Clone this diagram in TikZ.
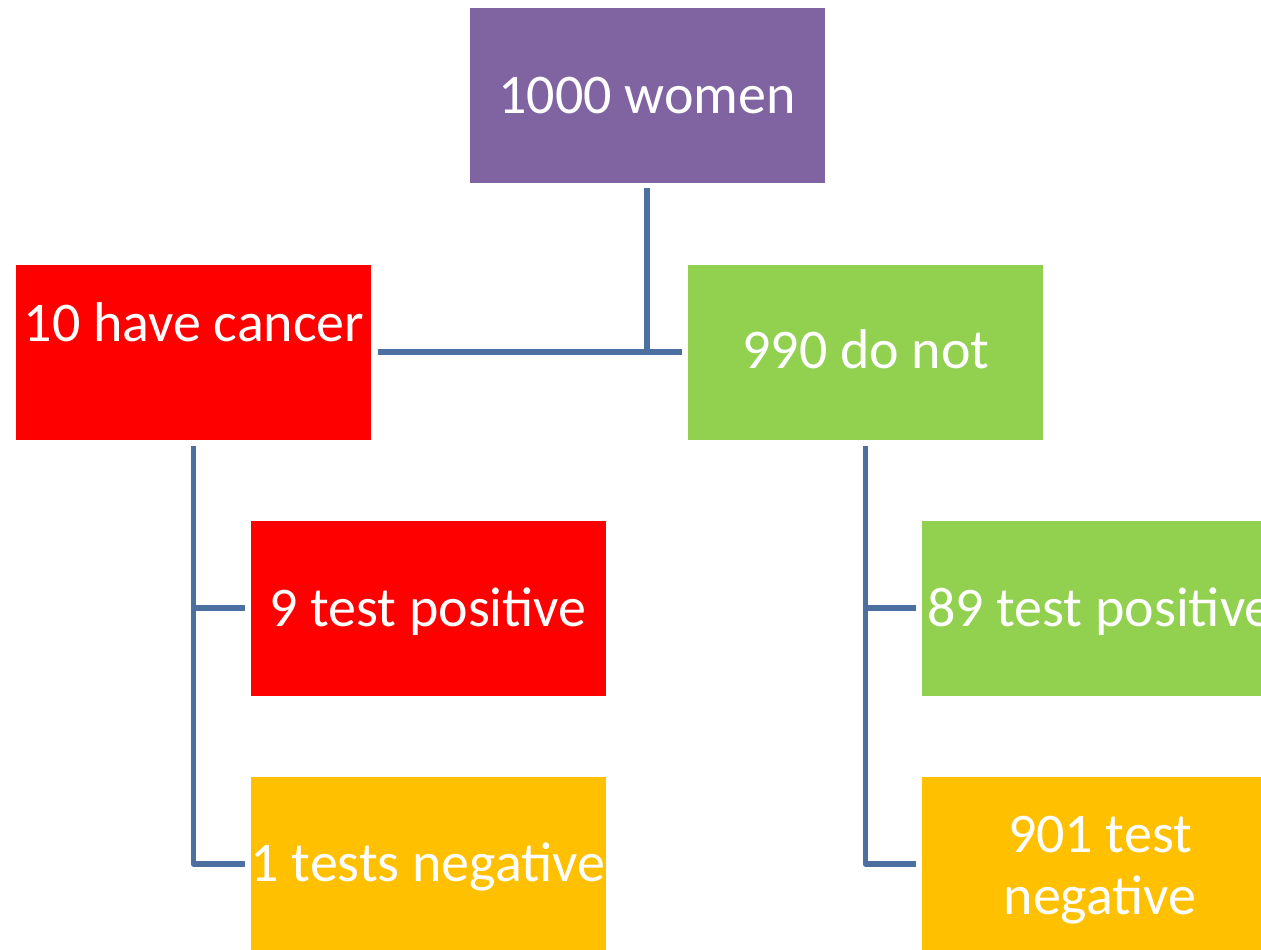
\documentclass[tikz,border=0pt]{standalone}
\usepackage{fontspec}
\setmainfont{Carlito}
\usepackage{tikz}

\definecolor{boxpurple}{HTML}{8064A2}
\definecolor{boxred}{HTML}{FF0000}
\definecolor{boxgreen}{HTML}{92D050}
\definecolor{boxorange}{HTML}{FFC000}
\definecolor{linkblue}{HTML}{4A6FA0}

\begin{document}
\begin{tikzpicture}[x=1pt, y=-1pt]
%% the figure uses pixel units, y grows downwards
%% box labels are placed separately so they can be shifted by hand
\tikzstyle{box}=[rectangle,minimum width=355pt,minimum height=175pt,inner sep=0pt]
\tikzstyle{boxtext}=[text=white,font=\fontsize{56}{62}\selectfont,inner sep=0pt]
\tikzstyle{link}=[draw=linkblue,line width=5.5pt,line join=round]
\useasboundingbox (0,0) rectangle (1261,950);
\clip (0,0) rectangle (1261,950);
%% TikZ-figure elements %%
\node[box,fill=boxpurple] at (647,95.5) (Women) {};
%% label for box Women
\node[boxtext,anchor=base] at (647,113) (WomenText) {1000 women};
\node[box,fill=boxred] at (193.5,352) (Cancer) {};
%% label for box Cancer
\node[boxtext,anchor=base] at (194,341) (CancerText) {10 have cancer};
\node[box,fill=boxgreen] at (865.5,352) (NoCancer) {};
%% label for box NoCancer
\node[boxtext,anchor=base] at (866,368) (NoCancerText) {990 do not};
\node[box,fill=boxred] at (428.5,608) (CancerPos) {};
%% label for box CancerPos
\node[boxtext,anchor=base] at (428,626) (CancerPosText) {9 test positive};
\node[box,fill=boxorange] at (428.5,864) (CancerNeg) {};
%% label for box CancerNeg
\node[boxtext,anchor=base] at (428,881) (CancerNegText) {1 tests negative};
\node[box,fill=boxgreen] at (1099.5,608) (NoCancerPos) {};
%% label for box NoCancerPos
\node[boxtext,anchor=base] at (1100,626) (NoCancerPosText) {89 test positive};
\node[box,fill=boxorange] at (1099.5,864) (NoCancerNeg) {};
%% label for box NoCancerNeg
\node[boxtext,align=center] at (1100,870) (NoCancerNegText) {901 test\\negative};
%% connectors
\coordinate (Split) at (Women.south |- Cancer.east);
\draw[link,shorten <=5pt] (Women.south) -- (Split);
\draw[link,shorten <=7pt,shorten >=6pt] (Cancer.east) -- (NoCancer.west);
\draw[link,shorten <=6pt,shorten >=6pt] (Cancer.south) |- (CancerPos.west);
\draw[link,shorten <=6pt,shorten >=6pt] (Cancer.south) |- (CancerNeg.west);
\draw[link,shorten <=6pt,shorten >=6pt] (NoCancer.south) |- (NoCancerPos.west);
\draw[link,shorten <=6pt,shorten >=6pt] (NoCancer.south) |- (NoCancerNeg.west);
\end{tikzpicture}
\end{document}
